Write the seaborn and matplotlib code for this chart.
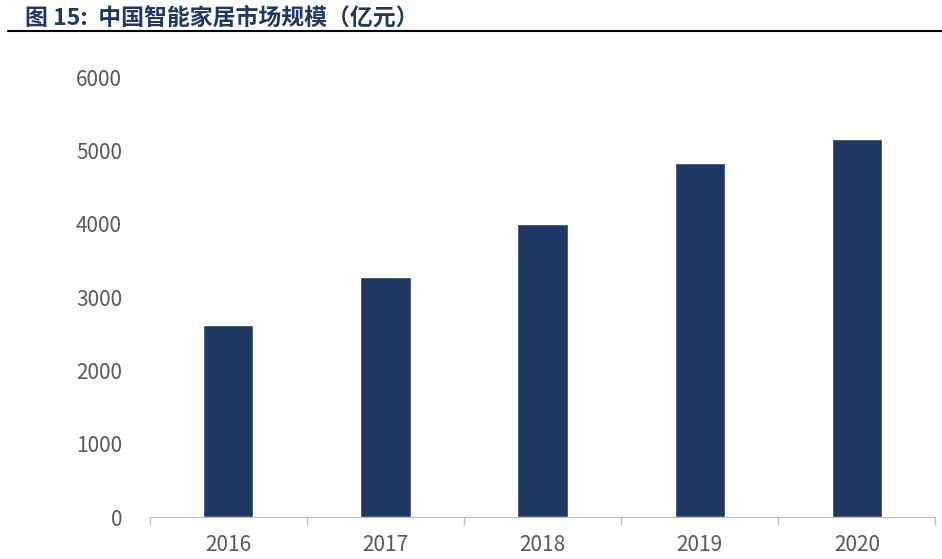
import numpy as np
import matplotlib.pyplot as plt
import seaborn as sns

years = ['2016', '2017', '2018', '2019', '2020']
market_size = [2620, 3270, 4000, 4830, 5150]

sns.set_style('white')
plt.rcParams['font.family'] = ['Noto Sans CJK SC', 'DejaVu Sans']

fig = plt.figure(figsize=(9.42, 5.59), dpi=100)
ax = fig.add_axes([0.159, 0.075, 0.834, 0.787])

sns.barplot(x=years, y=market_size, color='#1f3864', saturation=1, width=0.32, ax=ax)

ax.set_ylim(0, 6000)
ax.set_yticks(np.arange(0, 6001, 1000))
ax.set_xlim(-0.5, 4.5)
ax.tick_params(axis='y', length=0, pad=20, labelsize=15, labelcolor='#595959')
ax.tick_params(axis='x', which='major', length=0, pad=12, labelsize=15, labelcolor='#595959')
ax.set_xticks(np.arange(-0.5, 5, 1), minor=True)
ax.tick_params(axis='x', which='minor', bottom=True, direction='out',
               length=6, color='#bfbfbf', width=1)

for s in ['top', 'right', 'left']:
    ax.spines[s].set_visible(False)
ax.spines['bottom'].set_color('#bfbfbf')
ax.set_xlabel('')
ax.set_ylabel('')

fig.text(0.027, 0.968, '图 15:  中国智能家居市场规模（亿元）', fontsize=16.5, fontweight='bold',
         color='#1f3864', va='center', ha='left')
fig.add_artist(plt.Line2D([0.008, 1.0], [0.945, 0.945], color='black', lw=1.5))

plt.savefig('out.png', dpi=100)
